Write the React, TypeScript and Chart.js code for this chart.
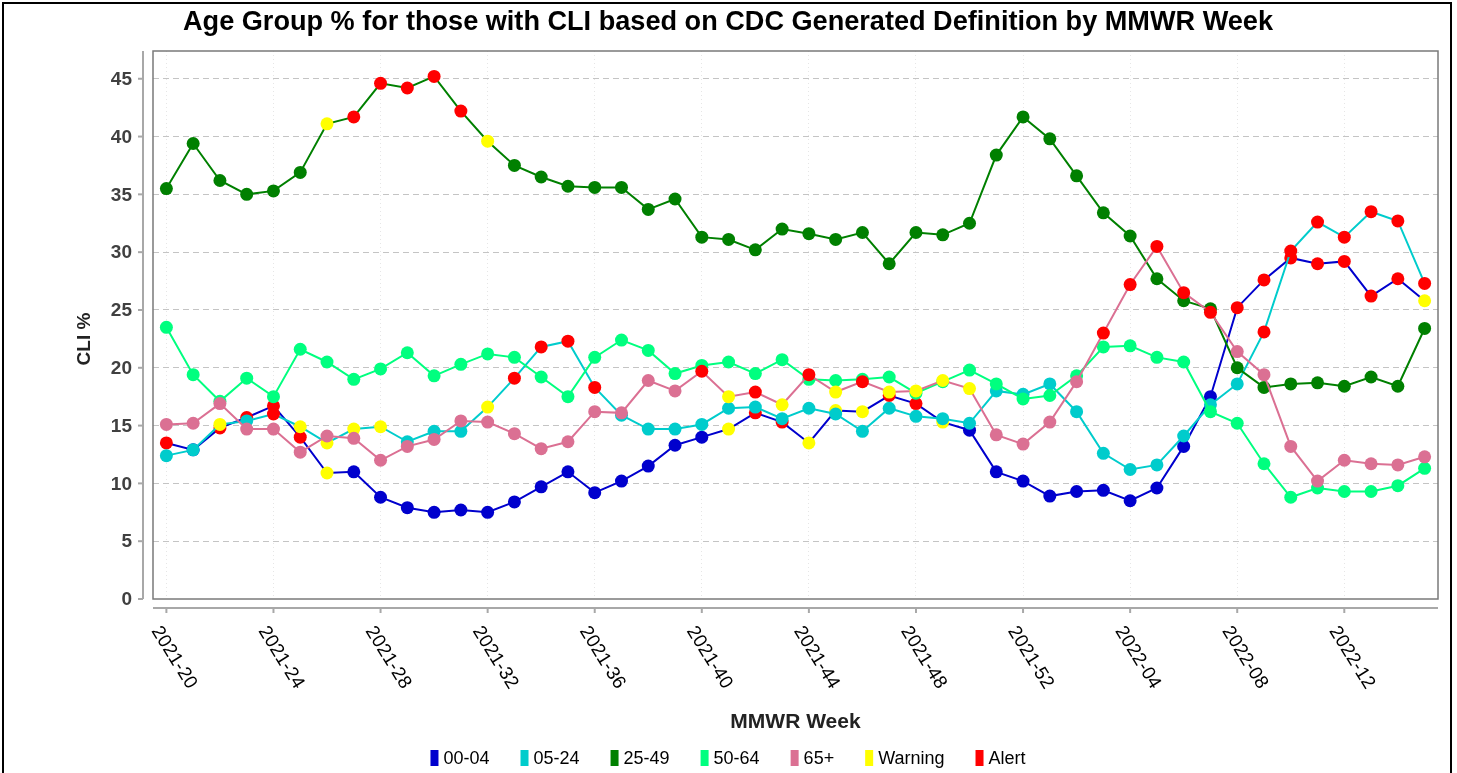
import React, { useEffect, useRef } from "react";
import { Chart, registerables } from "chart.js";

Chart.register(...registerables);

const TITLE = "Age Group % for those with CLI based on CDC Generated Definition by MMWR Week";
const X_TITLE = "MMWR Week";
const Y_TITLE = "CLI %";

const weeks = [
  "2021-20", "2021-21", "2021-22", "2021-23", "2021-24", "2021-25", "2021-26", "2021-27",
  "2021-28", "2021-29", "2021-30", "2021-31", "2021-32", "2021-33", "2021-34", "2021-35",
  "2021-36", "2021-37", "2021-38", "2021-39", "2021-40", "2021-41", "2021-42", "2021-43",
  "2021-44", "2021-45", "2021-46", "2021-47", "2021-48", "2021-49", "2021-50", "2021-51",
  "2021-52", "2022-01", "2022-02", "2022-03", "2022-04", "2022-05", "2022-06", "2022-07",
  "2022-08", "2022-09", "2022-10", "2022-11", "2022-12", "2022-13", "2022-14", "2022-15",
];

const xTickWeeks = [
  "2021-20", "2021-24", "2021-28", "2021-32", "2021-36", "2021-40",
  "2021-44", "2021-48", "2021-52", "2022-04", "2022-08", "2022-12",
];
const yTicks = [0, 5, 10, 15, 20, 25, 30, 35, 40, 45];

const age0004 = [
  13.5, 12.9, 14.8, 15.7, 16.7, 14.0, 10.9, 11.0, 8.8, 7.9,
  7.5, 7.7, 7.5, 8.4, 9.7, 11.0, 9.2, 10.2, 11.5, 13.3,
  14.0, 14.7, 16.1, 15.3, 13.5, 16.3, 16.2, 17.6, 16.9, 15.3,
  14.6, 11.0, 10.2, 8.9, 9.3, 9.4, 8.5, 9.6, 13.2, 17.5,
  25.2, 27.6, 29.5, 29.0, 29.2, 26.2, 27.7, 25.8,
];
const age0524 = [
  12.4, 12.9, 15.1, 15.4, 16.0, 14.9, 13.5, 14.7, 14.9, 13.6,
  14.5, 14.5, 16.6, 19.1, 21.8, 22.3, 18.3, 15.9, 14.7, 14.7,
  15.1, 16.5, 16.6, 15.6, 16.5, 16.0, 14.5, 16.5, 15.8, 15.6,
  15.2, 18.0, 17.7, 18.6, 16.2, 12.6, 11.2, 11.6, 14.1, 16.8,
  18.6, 23.1, 30.1, 32.6, 31.3, 33.5, 32.7, 27.3,
];
const age2549 = [
  35.5, 39.4, 36.2, 35.0, 35.3, 36.9, 41.1, 41.7, 44.6, 44.2,
  45.2, 42.2, 39.6, 37.5, 36.5, 35.7, 35.6, 35.6, 33.7, 34.6,
  31.3, 31.1, 30.2, 32.0, 31.6, 31.1, 31.7, 29.0, 31.7, 31.5,
  32.5, 38.4, 41.7, 39.8, 36.6, 33.4, 31.4, 27.7, 25.8, 25.1,
  20.0, 18.3, 18.6, 18.7, 18.4, 19.2, 18.4, 23.4,
];
const age5064 = [
  23.5, 19.4, 17.1, 19.1, 17.5, 21.6, 20.5, 19.0, 19.9, 21.3,
  19.3, 20.3, 21.2, 20.9, 19.2, 17.5, 20.9, 22.4, 21.5, 19.5,
  20.2, 20.5, 19.5, 20.7, 19.0, 18.9, 19.0, 19.2, 17.8, 18.8,
  19.8, 18.6, 17.3, 17.6, 19.3, 21.8, 21.9, 20.9, 20.5, 16.2,
  15.2, 11.7, 8.8, 9.6, 9.3, 9.3, 9.8, 11.3,
];
const age65plus = [
  15.1, 15.2, 16.9, 14.7, 14.7, 12.7, 14.1, 13.9, 12.0, 13.2,
  13.8, 15.4, 15.3, 14.3, 13.0, 13.6, 16.2, 16.1, 18.9, 18.0,
  19.7, 17.5, 17.9, 16.8, 19.4, 17.9, 18.8, 17.9, 18.0, 18.9,
  18.2, 14.2, 13.4, 15.3, 18.8, 23.0, 27.2, 30.5, 26.5, 24.8,
  21.4, 19.4, 13.2, 10.2, 12.0, 11.7, 11.6, 12.3,
];

// Status per week: "." normal, "W" warning, "A" alert
const flag0004 = "A.AAAAW... .......... .WAAWWWAAW .......... AAAAAAAW".replace(/ /g, "");
const flag0524 = "..W.AWWWW. ..WAAAA... .......... .......... .AAAAAAA".replace(/ /g, "");
const flag2549 = "......WAAA AAW....... .......... .......... ........".replace(/ /g, "");
const flag5064 = ".......... .......... .......... .......... ........".replace(/ /g, "");
const flag65plus = ".......... .......... AWAWAWAWWW W....AAAAA ........".replace(/ /g, "");

const seriesNames = ["00-04", "05-24", "25-49", "50-64", "65+"];
const seriesColors = ["#0000CD", "#00CCCC", "#008000", "#00FF7F", "#DB7093"];
const seriesValues = [age0004, age0524, age2549, age5064, age65plus];
const seriesFlags = [flag0004, flag0524, flag2549, flag5064, flag65plus];

const WARNING_COLOR = "#FFFF00";
const ALERT_COLOR = "#FF0000";
const legendNames = [...seriesNames, "Warning", "Alert"];
const legendColors = [...seriesColors, WARNING_COLOR, ALERT_COLOR];

const FONT = '"Liberation Sans", Arial, Helvetica, sans-serif';
const f = (w: string, s: number) => `${w} ${s}px ${FONT}`;

const decorPlugin = {
  id: "decor",
  afterDraw(chart: any) {
    const { ctx, chartArea: a, scales } = chart;
    const xs = scales.x;
    const ys = scales.y;
    ctx.save();

    // outer frame
    ctx.strokeStyle = "#000";
    ctx.lineWidth = 2;
    ctx.strokeRect(3, 3, 1448, 800);

    // title
    ctx.font = f("bold", 22);
    const tw = ctx.measureText(TITLE).width;
    const ts = (22 * 1090) / tw;
    ctx.font = f("bold", ts);
    ctx.fillStyle = "#000";
    ctx.textAlign = "center";
    ctx.textBaseline = "middle";
    ctx.fillText(TITLE, 728, 23);

    // plot frame
    ctx.strokeStyle = "#7a7a7a";
    ctx.lineWidth = 1.5;
    ctx.strokeRect(a.left, a.top, a.right - a.left, a.bottom - a.top);

    // y axis (offset)
    const ax = a.left - 10;
    ctx.strokeStyle = "#a8a8a8";
    ctx.lineWidth = 2;
    ctx.beginPath();
    ctx.moveTo(ax, a.top);
    ctx.lineTo(ax, a.bottom);
    ctx.stroke();
    ctx.font = f("bold", 19);
    ctx.fillStyle = "#404040";
    ctx.textAlign = "right";
    ctx.textBaseline = "middle";
    for (const v of yTicks) {
      const py = ys.getPixelForValue(v);
      ctx.beginPath();
      ctx.moveTo(ax - 5, py);
      ctx.lineTo(ax, py);
      ctx.stroke();
      ctx.fillText(String(v), ax - 11, py + 1);
    }

    // x axis (offset)
    const ay = a.bottom + 9;
    ctx.beginPath();
    ctx.moveTo(a.left, ay);
    ctx.lineTo(a.right, ay);
    ctx.stroke();
    ctx.font = f("normal", 19);
    ctx.fillStyle = "#000";
    ctx.textAlign = "left";
    ctx.textBaseline = "middle";
    for (const w of xTickWeeks) {
      const px = xs.getPixelForValue(weeks.indexOf(w));
      ctx.beginPath();
      ctx.moveTo(px, ay);
      ctx.lineTo(px, ay + 5);
      ctx.stroke();
      ctx.save();
      ctx.translate(px - 11, ay + 20);
      ctx.rotate((58 * Math.PI) / 180);
      ctx.fillText(w, 0, 0);
      ctx.restore();
    }

    // axis titles
    ctx.fillStyle = "#222";
    ctx.font = f("bold", 21);
    ctx.textAlign = "center";
    ctx.fillText(X_TITLE, (a.left + a.right) / 2, 722);
    ctx.font = f("bold", 19);
    ctx.save();
    ctx.translate(85, 339);
    ctx.rotate(-Math.PI / 2);
    ctx.fillText(Y_TITLE, 0, 0);
    ctx.restore();

    // legend
    ctx.font = f("normal", 18);
    const boxW = 8;
    const boxH = 16;
    const gapIn = 5;
    const gapOut = 31;
    const widths = legendNames.map((n) => boxW + gapIn + ctx.measureText(n).width);
    const total = widths.reduce((s, w) => s + w, 0) + gapOut * (widths.length - 1);
    let lx = 728 - total / 2;
    const ly = 758;
    ctx.textAlign = "left";
    ctx.textBaseline = "middle";
    legendNames.forEach((n, i) => {
      ctx.fillStyle = legendColors[i];
      ctx.fillRect(lx, ly - boxH / 2, boxW, boxH);
      ctx.fillStyle = "#000";
      ctx.fillText(n, lx + boxW + gapIn, ly + 1);
      lx += widths[i] + gapOut;
    });

    ctx.restore();
  },
};

function pointColor(flags: string, base: string) {
  return (c: any) => {
    const s = flags[c.dataIndex];
    if (s === "A") return ALERT_COLOR;
    if (s === "W") return WARNING_COLOR;
    return base;
  };
}

export default function App() {
  const ref = useRef<HTMLCanvasElement | null>(null);

  useEffect(() => {
    if (!ref.current) return;
    const datasets = seriesNames.map((name, i) => ({
      label: name,
      data: seriesValues[i],
      borderColor: seriesColors[i],
      backgroundColor: seriesColors[i],
      borderWidth: 2,
      pointRadius: 6.5,
      pointHoverRadius: 6.5,
      pointBorderWidth: 0,
      pointBackgroundColor: pointColor(seriesFlags[i], seriesColors[i]),
      pointBorderColor: pointColor(seriesFlags[i], seriesColors[i]),
      tension: 0,
      order: seriesNames.length - i,
    }));

    const chart = new Chart(ref.current, {
      type: "line",
      data: { labels: weeks, datasets },
      plugins: [decorPlugin],
      options: {
        animation: false,
        responsive: false,
        maintainAspectRatio: false,
        layout: { padding: { left: 153, top: 51, right: 19, bottom: 174 } },
        plugins: {
          legend: { display: false },
          title: { display: false },
          tooltip: { enabled: false },
        },
        scales: {
          x: {
            type: "category",
            offset: true,
            ticks: { display: false, autoSkip: false },
            border: { display: false, dash: [1, 3] },
            grid: {
              offset: false,
              drawTicks: false,
              lineWidth: 1,
              color: (c: any) => (c.index % 4 === 0 ? "#e6e6e6" : "rgba(0,0,0,0)"),
            },
          },
          y: {
            min: 0,
            max: 47.4,
            ticks: { display: false, stepSize: 5 },
            border: { display: false, dash: [6, 4] },
            grid: {
              drawTicks: false,
              lineWidth: 1,
              color: (c: any) =>
                c.tick && c.tick.value > 0 && c.tick.value % 5 === 0 ? "#c4c4c4" : "rgba(0,0,0,0)",
            },
          },
        },
      },
    });
    return () => chart.destroy();
  }, []);

  return (
    <div style={{ position: "fixed", left: 0, top: 0, width: 1457, height: 773, background: "#fff" }}>
      <canvas ref={ref} width={1457} height={773} style={{ display: "block", width: 1457, height: 773 }} />
    </div>
  );
}
